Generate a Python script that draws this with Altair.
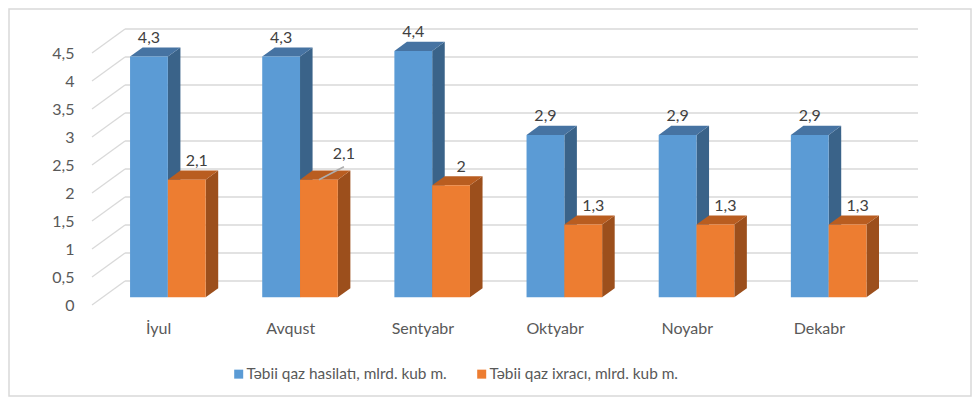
import altair as alt
import pandas as pd

# ---------------- data ----------------
months = ["İyul", "Avqust", "Sentyabr", "Oktyabr", "Noyabr", "Dekabr"]
production = [4.3, 4.3, 4.4, 2.9, 2.9, 2.9]
export = [2.1, 2.1, 2.0, 1.3, 1.3, 1.3]
series_names = ["Təbii qaz hasilatı, mlrd. kub m.", "Təbii qaz ixracı, mlrd. kub m."]
y_ticks = [0, 0.5, 1, 1.5, 2, 2.5, 3, 3.5, 4, 4.5]
callout = ("Avqust", 1)   # label that Excel moved and joined with a leader line

# ---------------- style / geometry constants ----------------
W, H = 826, 276
N = len(months)
DEPTH_X = 0.25                      # wall depth in x-units
Y_MAX = 4.5
DEPTH_Y = 24 / 56                   # wall depth in y-units
X_DOM = [0, N + DEPTH_X]
Y_DOM = [0, Y_MAX + DEPTH_Y]
SX, SY = 0.32 * DEPTH_X, 0.32 * DEPTH_Y   # bar front-face depth shift
BX, BY = 0.38 * DEPTH_X, 0.38 * DEPTH_Y   # bar depth
PXX = W / X_DOM[1]
PXY = H / Y_DOM[1]
SLOTS = [(0.208, 0.494), (0.494, 0.780)]
FRONT = ["#5B9BD5", "#ED7D31"]
TOP = ["#4673A2", "#B95D20"]
SIDE = ["#3A6389", "#9C4F1C"]
GRID = "#D9D9D9"
FONT = "Lato"

front_rows, top_rows, side_rows, label_rows = [], [], [], []
for s, vals in enumerate([production, export]):
    for i, (m, v) in enumerate(zip(months, vals)):
        bid = f"{s}-{i}"
        x0 = i + SLOTS[s][0] + SX
        x1 = i + SLOTS[s][1] + SX
        front_rows.append(dict(series=series_names[s], x=x0, x2=x1, y=SY, y2=v + SY))
        top_rows += [dict(bid=bid, c=TOP[s], y=v + SY, xa=x0, xb=x1),
                     dict(bid=bid, c=TOP[s], y=v + SY + BY, xa=x0 + BX, xb=x1 + BX)]
        side_rows += [dict(bid=bid, c=SIDE[s], x=x1, ya=SY, yb=v + SY),
                      dict(bid=bid, c=SIDE[s], x=x1 + BX, ya=SY + BY, yb=v + SY + BY)]
        cx = (x0 + x1) / 2
        lx = cx + (10 / PXX if s == 1 else 0)
        ly = v + SY + 18.5 / PXY
        is_call = 1 if (m, s) == callout else 0
        if is_call:
            lx += 15 / PXX
            ly += 7 / PXY
        label_rows.append(dict(v=v, lx=lx, ly=ly, cx=cx, ytop=v + SY,
                               ly2=ly - 12.5 / PXY, call=is_call))

front_df = pd.DataFrame(front_rows)
top_df = pd.DataFrame(top_rows)
side_df = pd.DataFrame(side_rows)
label_df = pd.DataFrame(label_rows)
lead_df = label_df[label_df["call"] == 1].reset_index(drop=True)
grid_df = pd.DataFrame({"v": y_ticks})
grid_df["vb"] = grid_df["v"] + DEPTH_Y
grid_df["x0"] = 0.0
grid_df["xd"] = DEPTH_X
grid_df["xe"] = X_DOM[1]

xs = alt.Scale(domain=X_DOM, nice=False, zero=False)
ys = alt.Scale(domain=Y_DOM, nice=False, zero=False)

month_arr = "[" + ",".join(f"'{m}'" for m in months) + "]"

AX = alt.Axis(values=[i + 0.5 for i in range(N)], labelExpr=f"{month_arr}[floor(datum.value)]",
              domain=False, ticks=False, grid=False, title=None, labelFont=FONT,
              labelFontSize=16, labelColor="#595959", labelBaseline="alphabetic",
              labelPadding=28, labelAlign="center")
AY = alt.Axis(values=y_ticks, labelExpr="replace(toString(datum.value), '.', ',')",
              domain=False, ticks=False, grid=False, title=None, labelFont=FONT,
              labelFontSize=16, labelColor="#595959", labelPadding=18)


def X(f, **kw):
    return alt.X(f, scale=xs, axis=AX, title=None, **kw)


def Y(f, **kw):
    return alt.Y(f, scale=ys, axis=AY, title=None, **kw)


# diagonal side-wall grid lines
diag = alt.Chart(grid_df).mark_rule(color=GRID, strokeWidth=1.3).encode(
    x=X("x0:Q"), x2="xd:Q", y=Y("v:Q"), y2="vb:Q",
)

back = alt.Chart(grid_df).mark_rule(color=GRID, strokeWidth=1.3).encode(
    x=X("xd:Q"), x2="xe:Q", y=Y("vb:Q"),
)

sides = alt.Chart(side_df).mark_area(orient="vertical").encode(
    x=X("x:Q"), y=Y("ya:Q", stack=None), y2="yb:Q",
    detail="bid:N", fill=alt.Fill("c:N", scale=None),
)

tops = alt.Chart(top_df).mark_area(orient="horizontal").encode(
    y=Y("y:Q"), x=X("xa:Q", stack=None), x2="xb:Q",
    detail="bid:N", fill=alt.Fill("c:N", scale=None),
)

fronts = alt.Chart(front_df).mark_rect().encode(
    x=X("x:Q"), x2="x2:Q", y=Y("y:Q"), y2="y2:Q",
    color=alt.Color("series:N", scale=alt.Scale(domain=series_names, range=FRONT),
                    legend=alt.Legend(orient="none", legendX=139, legendY=337,
                                      direction="horizontal", title=None,
                                      symbolType="square", symbolSize=81,
                                      symbolStrokeWidth=0, labelFont=FONT,
                                      labelFontSize=15.4, labelColor="#595959",
                                      labelLimit=0, columnPadding=27, labelOffset=0,
                                      padding=0)),
)

leader = alt.Chart(lead_df).mark_rule(color="#ADADAD", strokeWidth=1.6).encode(
    x=X("cx:Q"), x2="lx:Q", y=Y("ytop:Q"), y2="ly2:Q",
)

labels = alt.Chart(label_df).transform_calculate(
    txt="replace(toString(datum.v), '.', ',')"
).mark_text(font=FONT, fontSize=16, color="#404040", baseline="middle", align="center").encode(
    x=X("lx:Q"), y=Y("ly:Q"), text="txt:N",
)

frame = alt.Chart(pd.DataFrame({"k": [0]})).mark_rect(
    fill=None, stroke=GRID, strokeWidth=1.5).encode(
    x=alt.value(-83), x2=alt.value(879), y=alt.value(-20), y2=alt.value(367),
)

chart = alt.layer(diag, back, sides, tops, fronts, leader, labels, frame).properties(
    width=W, height=H,
    autosize=alt.AutoSizeParams(type="none"),
    padding={"left": 84, "top": 21, "right": 54, "bottom": 92},
    background="white",
).configure_view(stroke=None)

chart.save("out.html", embed_options={"renderer": "svg", "actions": False})
